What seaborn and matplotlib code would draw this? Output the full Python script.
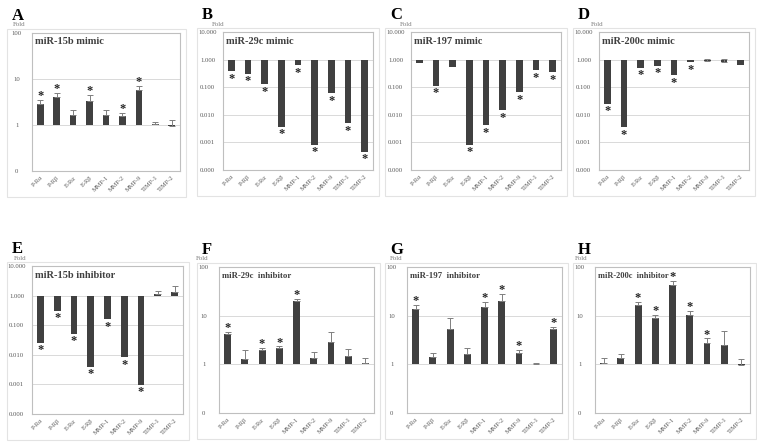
import numpy as np
import pandas as pd
import matplotlib
matplotlib.use("Agg")
import matplotlib.pyplot as plt
import seaborn as sns
from matplotlib.patches import Rectangle

# ---------------- data ----------------
categories = ["P-Rα", "P-Rβ", "E-Rα", "E-Rβ", "MMP-1", "MMP-2", "MMP-9", "TIMP-1", "TIMP-2"]

ticks_pos = ["0", "1", "10", "100"]
ticks_neg = ["0.000", "0.001", "0.010", "0.100", "1.000", "10.000"]

A_title = "miR-15b mimic"
A_vals = [2.8, 4.1, 1.66, 3.3, 1.66, 1.6, 5.65, 1.03, 0.95]
A_sd = [0.7, 0.9, 0.47, 1.1, 0.45, 0.23, 1.35, 0.11, 0.34]
A_sig = [1, 1, 0, 1, 0, 1, 1, 0, 0]

B_title = "miR-29c mimic"
B_vals = [0.38, 0.31, 0.128, 0.0037, 0.62, 0.0008, 0.061, 0.0049, 0.00045]
B_sd = [0, 0, 0, 0, 0, 0, 0, 0, 0]
B_sig = [1, 1, 1, 1, 1, 1, 1, 1, 1]

C_title = "miR-197 mimic"
C_vals = [0.78, 0.11, 0.53, 0.00083, 0.0042, 0.0147, 0.066, 0.41, 0.35]
C_sd = [0, 0, 0, 0, 0, 0, 0, 0, 0]
C_sig = [0, 1, 0, 1, 1, 1, 1, 1, 1]

D_title = "miR-200c mimic"
D_vals = [0.0244, 0.0035, 0.51, 0.61, 0.27, 0.80, 0.86, 0.84, 0.62]
D_sd = [0, 0, 0, 0, 0, 0, 0.18, 0.24, 0]
D_sig = [1, 1, 1, 1, 1, 1, 0, 0, 0]

E_title = "miR-15b inhibitor"
E_vals = [0.025, 0.30, 0.052, 0.004, 0.158, 0.0083, 0.00096, 1.14, 1.33]
E_sd = [0, 0, 0, 0, 0, 0, 0, 0.34, 0.74]
E_sig = [1, 1, 1, 1, 1, 1, 1, 0, 0]

F_title = "miR-29c  inhibitor"
F_vals = [4.2, 1.29, 1.97, 2.2, 20.0, 1.33, 2.9, 1.48, 1.06]
F_sd = [0.46, 0.65, 0.23, 0.13, 2.4, 0.43, 1.7, 0.55, 0.27]
F_sig = [1, 0, 1, 1, 1, 0, 0, 0, 0]

G_title = "miR-197  inhibitor"
G_vals = [14.0, 1.4, 5.3, 1.66, 14.9, 20.0, 1.71, 1.04, 5.4]
G_sd = [2.4, 0.31, 3.6, 0.54, 3.9, 8.0, 0.26, 0.03, 0.35]
G_sig = [1, 0, 0, 0, 1, 1, 1, 0, 1]

H_title = "miR-200c  inhibitor"
H_vals = [1.06, 1.33, 16.3, 8.8, 43.0, 10.2, 2.7, 2.54, 0.98]
H_sd = [0.27, 0.32, 2.5, 1.7, 9.0, 2.4, 0.7, 2.26, 0.29]
H_sig = [0, 0, 1, 1, 1, 1, 1, 0, 0]

# ---------------- style ----------------
sns.set_theme(style="white")
plt.rcParams['font.family'] = ['Liberation Serif', 'DejaVu Serif']

W, H = 757, 446
fig = plt.figure(figsize=(W / 100, H / 100), dpi=100)
fig.patch.set_facecolor("white")

BAR = "#404040"
GRID = "#d9d9d9"
FRAME = "#bfbfbf"
TXT = "#595959"

panels = [
    # letter, title, vals, sd, sig, (l, t, r, b), decade range, tick labels, title size, fold x, col x
    ("A", A_title, A_vals, A_sd, A_sig, (32, 33, 180, 171), (-1, 2), ticks_pos, 7.5, 19, 0),
    ("B", B_title, B_vals, B_sd, B_sig, (223, 32, 373, 170), (-4, 1), ticks_neg, 7.5, 218, 190),
    ("C", C_title, C_vals, C_sd, C_sig, (411, 32, 561, 170), (-4, 1), ticks_neg, 7.5, 406, 378),
    ("D", D_title, D_vals, D_sd, D_sig, (599, 32, 749, 170), (-4, 1), ticks_neg, 7.5, 597, 566),
    ("E", E_title, E_vals, E_sd, E_sig, (32, 266, 183, 414), (-4, 1), ticks_neg, 7.5, 20, 0),
    ("F", F_title, F_vals, F_sd, F_sig, (219, 267, 374, 413), (-1, 2), ticks_pos, 6.3, 202, 190),
    ("G", G_title, G_vals, G_sd, G_sig, (407, 267, 562, 413), (-1, 2), ticks_pos, 6.3, 396, 378),
    ("H", H_title, H_vals, H_sd, H_sig, (595, 267, 750, 413), (-1, 2), ticks_pos, 6.0, 581, 566),
]

for letter, title, vals, sd, sig, (l, t, r, b), (lo, hi), tlabels, tfs, foldx, colx in panels:
    # outer chart frame
    fig.add_artist(Rectangle(((colx + 7) / W, 1 - (b + 26) / H), (r + 6 - colx - 7) / W, (b + 26 - (t - 4)) / H,
                             transform=fig.transFigure, fill=False, ec="#e3e3e3", lw=0.8))
    ax = fig.add_axes([l / W, 1 - b / H, (r - l) / W, (b - t) / H])
    vals_a = np.asarray(vals, float)
    sd_a = np.asarray(sd, float)
    df = pd.DataFrame({"cat": categories, "logv": np.log10(vals_a)})
    sns.barplot(data=df, x="cat", y="logv", order=categories, color=BAR, saturation=1,
                width=0.4, errorbar=None, ax=ax, zorder=2, linewidth=0)
    for i, (v, s, g) in enumerate(zip(vals_a, sd_a, sig)):
        lv = np.log10(v)
        top = lv
        if s > 0:
            top = np.log10(v + s)
            ax.errorbar(i, lv, yerr=[[0], [top - lv]], fmt="none", ecolor="#7f7f7f",
                        elinewidth=0.7, capsize=2.2, capthick=0.7, zorder=3)
        if g:
            if v >= 1:
                ax.annotate("*", (i, max(top, lv)), xytext=(0, -1.5), textcoords="offset points",
                            ha="center", va="bottom", fontsize=9, fontweight="bold", color="#262626")
            else:
                ax.annotate("*", (i, lv), xytext=(0, -1.0), textcoords="offset points",
                            ha="center", va="top", fontsize=9, fontweight="bold", color="#262626")
    ax.set_ylim(lo, hi)
    ax.set_xlim(-0.5, 8.5)
    ax.set_yticks(list(range(lo, hi + 1)))
    ax.set_yticklabels(tlabels)
    ax.set_xlabel("")
    ax.set_ylabel("")
    ax.yaxis.grid(True, color=GRID, lw=0.7, zorder=0)
    ax.xaxis.grid(False)
    ax.set_axisbelow(True)
    for sp in ax.spines.values():
        sp.set_color(FRAME)
        sp.set_linewidth(0.8)
        sp.set_visible(True)
    ax.tick_params(axis="y", length=0, labelsize=4.8, labelcolor=TXT, pad=11)
    for lab in ax.get_yticklabels():
        lab.set_horizontalalignment("center")
    ax.tick_params(axis="x", length=0, labelsize=4.6, labelcolor=TXT, pad=3)
    for lab in ax.get_xticklabels():
        lab.set_rotation(45)
        lab.set_horizontalalignment("right")
        lab.set_rotation_mode("anchor")
    ax.text(0.02, 1 - 9 / (b - t), title, transform=ax.transAxes, ha="left", va="center",
            fontsize=tfs, fontweight="bold", color="#404040")
    # panel letter and "Fold"
    fig.text((colx + 12) / W, 1 - (t - 13) / H, letter, ha="left", va="baseline",
             fontsize=12, fontweight="bold", color="black")
    fig.text(foldx / W, 1 - (t - 8) / H, "Fold", ha="center", va="center",
             fontsize=5, color="#7f7f7f")

fig.savefig("out.png", dpi=100, facecolor="white")
